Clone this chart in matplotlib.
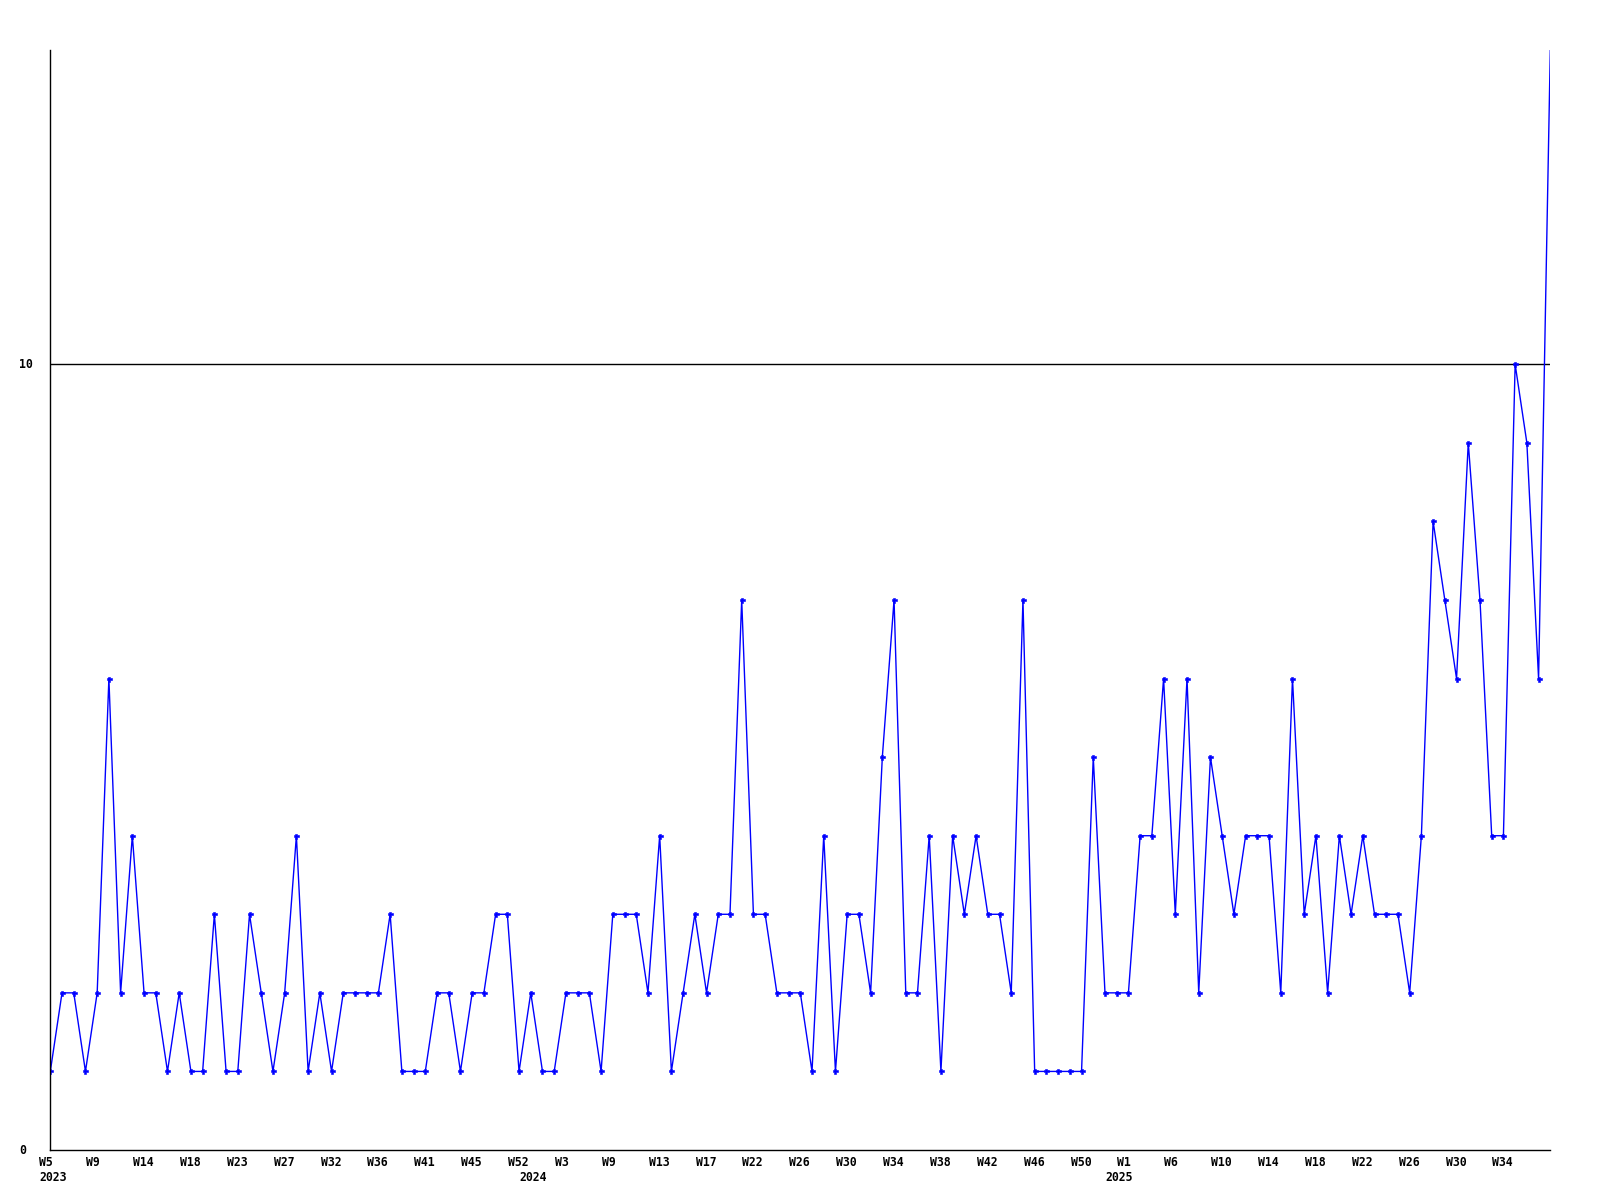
import numpy as np
import matplotlib
matplotlib.use("Agg")
import matplotlib.pyplot as plt
import matplotlib.transforms as mtransforms

# weekly counts, first point = W5 2023
values = [1, 2, 2, 1, 2, 6, 2, 4, 2, 2, 1, 2, 1, 1, 3, 1, 1, 3, 2, 1,
          2, 4, 1, 2, 1, 2, 2, 2, 2, 3, 1, 1, 1, 2, 2, 1, 2, 2, 3, 3,
          1, 2, 1, 1, 2, 2, 2, 1, 3, 3, 3, 2, 4, 1, 2, 3, 2, 3, 3, 7,
          3, 3, 2, 2, 2, 1, 4, 1, 3, 3, 2, 5, 7, 2, 2, 4, 1, 4, 3, 4,
          3, 3, 2, 7, 1, 1, 1, 1, 1, 5, 2, 2, 2, 4, 4, 6, 3, 6, 2, 5,
          4, 3, 4, 4, 4, 2, 6, 3, 4, 2, 4, 3, 4, 3, 3, 3, 2, 4, 8, 7,
          6, 9, 7, 4, 4, 10, 9, 6, 14]

week_labels = ['W5', 'W9', 'W14', 'W18', 'W23', 'W27', 'W32', 'W36', 'W41',
               'W45', 'W52', 'W3', 'W9', 'W13', 'W17', 'W22', 'W26', 'W30',
               'W34', 'W38', 'W42', 'W46', 'W50', 'W1', 'W6', 'W10', 'W14',
               'W18', 'W22', 'W26', 'W30', 'W34']
year_labels = ['2023', '2024', '2025']
year_points = [0, 41, 91]
y_labels = [0, 10]

x = np.arange(len(values))
label_step = 4

fig = plt.figure(figsize=(16, 12), dpi=100)
ax = fig.add_axes([50.3 / 1600, 50 / 1200, 1500 / 1600, 1100 / 1200])

ax.plot(x, values, color='#0000ff', lw=1.0, marker='P', ms=3.6,
        mec='#0000ff', mfc='#0000ff', mew=0.4, markevery=slice(0, len(values) - 1))
ax.axhline(10, color='black', lw=1.0, zorder=0)

ax.set_xlim(0, len(values) - 1)
ax.set_ylim(0, max(values))
ax.set_xticks([])
ax.set_yticks([])
for s in ['top', 'right']:
    ax.spines[s].set_visible(False)
for s in ['left', 'bottom']:
    ax.spines[s].set_color('black')
    ax.spines[s].set_linewidth(1.0)

font = dict(family='DejaVu Sans Mono', fontweight='bold', fontsize=8.3, color='black')

# week labels under the axis, left aligned a bit before their point
base = mtransforms.blended_transform_factory(ax.transData, ax.transAxes)
wk_tr = base + mtransforms.ScaledTranslation(-11 / 100, -16.5 / 100, fig.dpi_scale_trans)
for i, lab in enumerate(week_labels):
    ax.text(i * label_step, 0, lab, transform=wk_tr, ha='left', va='baseline', **font)

yr_tr = base + mtransforms.ScaledTranslation(-11 / 100, -31 / 100, fig.dpi_scale_trans)
for p, lab in zip(year_points, year_labels):
    ax.text(p, 0, lab, transform=yr_tr, ha='left', va='baseline', **font)

# y labels at the far left
ylab_tr = mtransforms.blended_transform_factory(fig.transFigure, ax.transData)
for v in y_labels:
    ax.text(19.5 / 1600, v, str(v), transform=ylab_tr, ha='left', va='center', **font)

fig.savefig('out.png', dpi=100)
